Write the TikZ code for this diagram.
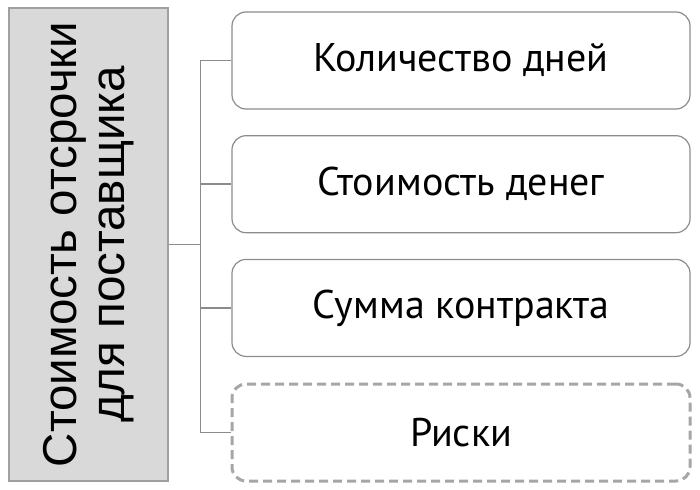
\documentclass[tikz,border=0pt]{standalone}
\usepackage{fontspec}
\setmainfont{Liberation Sans}
\newfontfamily\boxfont{PT Sans}
\usetikzlibrary{positioning}
\definecolor{fillgray}{HTML}{D9D9D9}
\definecolor{boxgray}{HTML}{A0A0A0}
\definecolor{linegray}{HTML}{8C8C8C}
\definecolor{dashgray}{HTML}{A6A6A6}

\begin{document}
\begin{tikzpicture}[
    x=1pt, y=1pt,
    node distance=25.5pt,
    cost/.style={rectangle, draw=boxgray, fill=fillgray, line width=1.2pt, minimum width=473pt, minimum height=159pt, rotate=90, align=center, font=\fontsize{47.5}{48}\selectfont},
    factor/.style={rectangle, draw=linegray, line width=1.2pt, rounded corners=14pt, minimum width=458pt, minimum height=97pt, font=\boxfont\fontsize{40}{48}\selectfont},
    optional/.style={factor, draw=dashgray, dash pattern=on 9pt off 5pt, line width=3pt},
    conn/.style={draw=linegray, line width=1.5pt}
]
\useasboundingbox (0,0) rectangle (700,-489);

% узлы
\node[cost] (cost) at (88.5,-244.5) {Стоимость отсрочки\\для поставщика};
\node[factor] (days) at (461,-60.5) {Количество дней};
\node[factor, below=of days] (money) {Стоимость денег};
\node[factor, below=of money] (contract) {Сумма контракта};
\node[optional, below=of contract] (risk) {Риски};

% линии
\coordinate[right=32pt of cost.south] (trunk);
\draw[conn] (cost.south) -- (trunk);
\draw[conn] (trunk |- days.west) -- (trunk |- risk.west);
\foreach \b in {days, money, contract, risk}
    \draw[conn] (trunk |- \b.west) -- (\b.west);
\end{tikzpicture}
\end{document}
